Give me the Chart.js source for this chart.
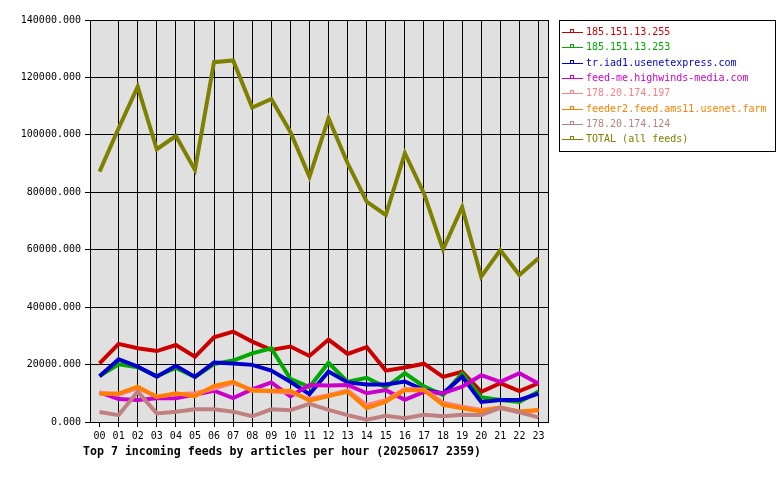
<!DOCTYPE html>
<html>
<head>
<meta charset="utf-8">
<script src="https://cdn.jsdelivr.net/npm/chart.js@4/dist/chart.umd.min.js"></script>
<style>
  html, body { margin: 0; padding: 0; background: #fff; }
  #wrap { width: 780px; height: 480px; }
</style>
</head>
<body>
<div id="wrap"><canvas id="feeds-chart" width="780" height="480"></canvas></div>
<script>
// hours 00..23
const hours = ['00','01','02','03','04','05','06','07','08','09','10','11',
               '12','13','14','15','16','17','18','19','20','21','22','23'];

const feedNames = [
    '185.151.13.255',
    '185.151.13.253',
    'tr.iad1.usenetexpress.com',
    'feed-me.highwinds-media.com',
    '178.20.174.197',
    'feeder2.feed.ams11.usenet.farm',
    '178.20.174.124',
    'TOTAL (all feeds)'
];
const feedColors = ['#cc0000', '#00aa00', '#0000cc', '#cc00cc', '#ff8080', '#ff8000', '#c08080', '#808000'];

// articles per hour
const feed255 = [20400, 27200, 25700, 24700, 26800, 22700, 29500, 31500, 28000, 25100, 26300, 23000,
                 28700, 23700, 26100, 17900, 19000, 20300, 15700, 17500, 10500, 13500, 10800, 13500];
const feed253 = [16000, 20100, 19100, 16000, 18800, 15700, 20200, 21400, 23900, 25700, 15000, 12200,
                 20600, 14000, 15400, 12100, 17000, 12400, 9400, 16900, 8600, 7700, 7000, 10600];
const usenetexpress = [15900, 21800, 19300, 15800, 19600, 15700, 20700, 20400, 19900, 17900, 14000, 9700,
                       17600, 13800, 13100, 13100, 14100, 11100, 10000, 15800, 7000, 7700, 7700, 9900];
const highwinds = [10300, 8000, 7700, 8300, 8300, 9600, 10900, 8300, 11400, 13800, 8900, 12900,
                   12700, 12900, 10000, 11100, 7700, 10500, 10000, 12300, 16300, 14000, 17000, 13400];
const feed197 = [10200, 9600, 11800, 8900, 9700, 10000, 11600, 13600, 11200, 10600, 10300, 8000,
                 9300, 11000, 5900, 7600, 11500, 11300, 6700, 5300, 4200, 5000, 3600, 4000];
const usenetFarm = [9800, 9900, 12300, 8700, 10000, 9000, 12600, 14000, 10900, 10900, 10900, 7400,
                    9000, 10600, 4800, 7100, 11100, 11100, 6000, 4800, 3700, 5000, 3700, 4200];
const feed124 = [3500, 2400, 10600, 3000, 3600, 4400, 4400, 3600, 2000, 4400, 4100, 6300,
                 4200, 2400, 800, 2200, 1300, 2500, 2000, 2500, 2400, 4900, 3400, 1600];
const totalFeeds = [87200, 102300, 116800, 95000, 99600, 87800, 125300, 125900, 109500, 112500, 101000, 85400,
                    105800, 90100, 76700, 72100, 93600, 79600, 60100, 74800, 50600, 59900, 51200, 57000];

const yTicks = [0, 20000, 40000, 60000, 80000, 100000, 120000, 140000];
const chartTitle = 'Top 7 incoming feeds by articles per hour (20250617 2359)';

const seriesValues = [feed255, feed253, usenetexpress, highwinds, feed197, usenetFarm, feed124, totalFeeds];

const monoFont = '"DejaVu Sans Mono", "Liberation Mono", monospace';

// grey plot background, frame, legend box and title
const framePlugin = {
    id: 'frame',
    beforeDraw(chart) {
        const { ctx, chartArea: a } = chart;
        ctx.save();
        ctx.fillStyle = '#e0e0e0';
        ctx.fillRect(a.left, a.top, a.right - a.left, a.bottom - a.top);
        ctx.restore();
    },
    afterDraw(chart) {
        const { ctx, chartArea: a } = chart;
        ctx.save();
        ctx.strokeStyle = '#000';
        ctx.lineWidth = 1;
        ctx.strokeRect(Math.round(a.left) + 0.5, Math.round(a.top) + 0.5,
                       Math.round(a.right - a.left), Math.round(a.bottom - a.top));

        // legend
        ctx.strokeRect(559.5, 20.5, 216, 131);
        ctx.font = '10px ' + monoFont;
        ctx.textBaseline = 'middle';
        chart.data.datasets.forEach((ds, i) => {
            const y = Math.round(32 + i * 15.3) + 0.5;
            ctx.strokeStyle = ds.borderColor;
            ctx.beginPath();
            ctx.moveTo(562, y);
            ctx.lineTo(583, y);
            ctx.stroke();
            ctx.strokeRect(570.5, y - 3, 3, 3);
            ctx.fillStyle = ds.borderColor;
            ctx.fillText(ds.label, 586, y);
        });

        // title
        ctx.fillStyle = '#000';
        ctx.font = 'bold 11.6px ' + monoFont;
        ctx.textBaseline = 'middle';
        ctx.fillText(chartTitle, 83, 452);
        ctx.restore();
    }
};

const canvas = document.getElementById('feeds-chart');
window.feedsChart = new Chart(canvas, {
    type: 'line',
    data: {
        labels: hours,
        datasets: seriesValues.map((values, i) => ({
            label: feedNames[i],
            data: values,
            borderColor: feedColors[i],
            backgroundColor: feedColors[i],
            borderWidth: 4,
            pointRadius: 0,
            tension: 0,
            order: seriesValues.length - i
        }))
    },
    options: {
        responsive: false,
        animation: false,
        devicePixelRatio: 1,
        layout: { padding: { top: 20, left: 0, right: 232, bottom: 38 } },
        plugins: { legend: { display: false }, tooltip: { enabled: false } },
        scales: {
            x: {
                type: 'category',
                offset: true,
                grid: {
                    offset: false,
                    color: (c) => c.index === 0 ? 'rgba(0,0,0,0)' : '#000',
                    tickColor: '#000',
                    tickLength: 5,
                    lineWidth: 1
                },
                border: { color: '#000' },
                ticks: { color: '#000', font: { family: monoFont, size: 10 }, padding: 3, maxRotation: 0, autoSkip: false },
                afterFit(scale) { scale.height = 20; }
            },
            y: {
                min: yTicks[0],
                max: yTicks[yTicks.length - 1],
                afterBuildTicks(scale) { scale.ticks = yTicks.map((v) => ({ value: v })); },
                grid: { color: '#000', tickColor: '#000', tickLength: 5, lineWidth: 1 },
                border: { color: '#000' },
                ticks: {
                    color: '#000',
                    font: { family: monoFont, size: 10 },
                    padding: 4,
                    callback: (v) => Number(v).toFixed(3)
                },
                afterFit(scale) { scale.width = 90; }
            }
        }
    },
    plugins: [framePlugin]
});
</script>
</body>
</html>
